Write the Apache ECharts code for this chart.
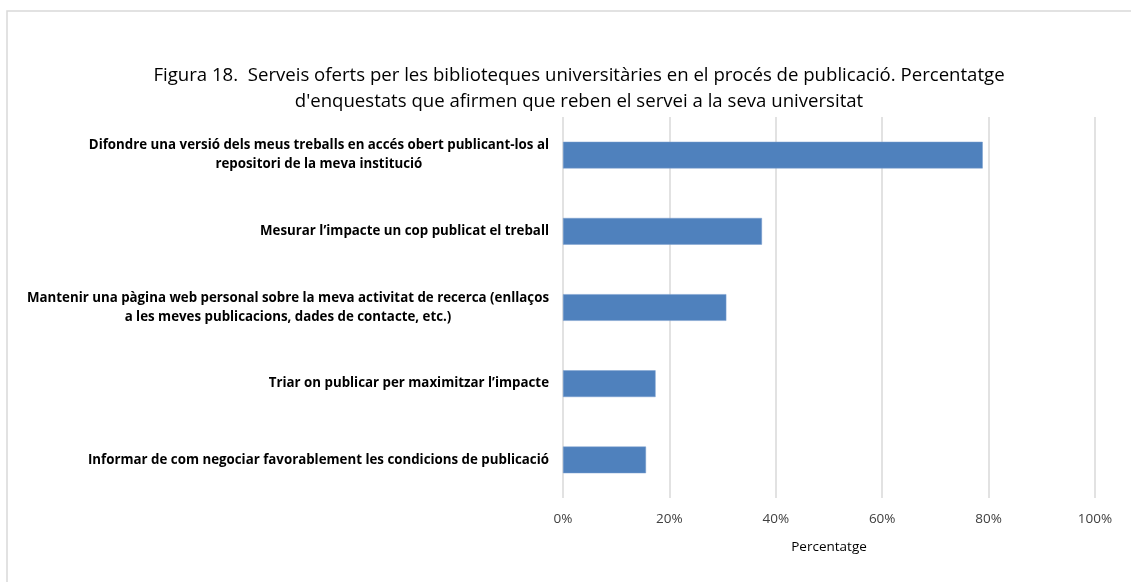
<!DOCTYPE html>
<html>
<head>
<meta charset="utf-8">
<script src="https://cdn.jsdelivr.net/npm/echarts@6/dist/echarts.min.js"></script>
<style>
  html, body { margin: 0; padding: 0; background: #fff; }
  #chart { width: 1131px; height: 582px; }
</style>
</head>
<body>
<div id="chart"></div>
<script>
const titleText = "Figura 18.  Serveis oferts per les biblioteques universitàries en el procés de publicació. Percentatge\nd'enquestats que afirmen que reben el servei a la seva universitat";
const categories = [
  'Difondre una versió dels meus treballs en accés obert publicant-los al\nrepositori de la meva institució',
  'Mesurar l’impacte un cop publicat el treball',
  'Mantenir una pàgina web personal sobre la meva activitat de recerca (enllaços\na les meves publicacions, dades de contacte, etc.)',
  'Triar on publicar per maximitzar l’impacte',
  'Informar de com negociar favorablement les condicions de publicació'
];
const values = [78.9, 37.4, 30.7, 17.4, 15.6];
const xTicks = { min: 0, max: 100, interval: 20 };
const xAxisName = 'Percentatge';

const font = '"Open Sans", sans-serif';
const chart = echarts.init(document.getElementById('chart'));

const option = {
  animation: false,
  backgroundColor: '#fff',
  graphic: [
    {
      type: 'rect',
      shape: { x: 7, y: 11, width: 1140, height: 600 },
      style: { fill: 'none', stroke: '#d9d9d9', lineWidth: 1.5 },
      silent: true
    },
    {
      type: 'text',
      x: 579,
      y: 63,
      style: {
        text: titleText,
        fill: '#000',
        font: '18.6px ' + font,
        align: 'center',
        lineHeight: 25.5
      }
    }
  ],
  grid: { left: 563, right: 36, top: 117, bottom: 84, containLabel: false },
  xAxis: {
    type: 'value',
    min: xTicks.min,
    max: xTicks.max,
    interval: xTicks.interval,
    name: xAxisName,
    nameLocation: 'middle',
    nameGap: 42,
    nameTextStyle: { color: '#000', fontSize: 13.5, fontFamily: font },
    axisLine: { show: false },
    axisTick: { show: false },
    axisLabel: { formatter: '{value}%', color: '#404040', fontSize: 13.5, fontFamily: font, margin: 14 },
    splitLine: { show: true, lineStyle: { color: '#d9d9d9', width: 1.5 } }
  },
  yAxis: {
    type: 'category',
    inverse: true,
    data: categories,
    axisLine: { show: false },
    axisTick: { show: false },
    axisLabel: {
      margin: 14,
      formatter: v => v.split('\n').map(l => '{c|' + l + '}').join('\n'),
      rich: {
        c: { align: 'center', fontWeight: 'bold', fontSize: 13.3, lineHeight: 19, color: '#000', fontFamily: font }
      }
    }
  },
  series: [{
    type: 'bar',
    data: values,
    barWidth: '35%',
    itemStyle: { color: '#4f81bd', borderColor: '#7a9fcf', borderWidth: 0.5 }
  }]
};
chart.setOption(option);
</script>
</body>
</html>
